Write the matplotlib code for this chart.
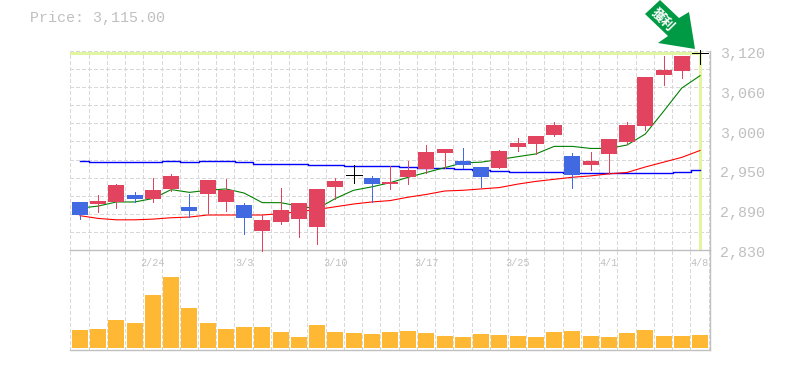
import matplotlib
matplotlib.use("Agg")
import matplotlib.pyplot as plt
import numpy as np
from matplotlib.patches import Polygon
from matplotlib.transforms import blended_transform_factory

W, H = 785, 370

open_prices = [2900, 2897, 2900, 2910, 2904, 2919, 2893, 2912, 2900, 2896, 2858, 2871,
               2875, 2864, 2922, 2939, 2935, 2926, 2937, 2948, 2971, 2960, 2951, 2950,
               2980, 2985, 2998, 2967, 2954, 2970, 2987, 3011, 3085, 3091, 3117]
high_prices = [2900, 2910, 2926, 2915, 2935, 2941, 2912, 2932, 2934, 2899, 2881, 2920,
               2899, 2919, 2935, 2954, 2938, 2953, 2960, 2983, 2977, 2979, 2951, 2976,
               2993, 2996, 3017, 2971, 2973, 2992, 3017, 3082, 3113, 3113, 3122]
low_prices = [2875, 2885, 2891, 2900, 2900, 2916, 2878, 2884, 2887, 2853, 2829, 2868,
              2849, 2839, 2904, 2928, 2900, 2919, 2926, 2942, 2950, 2950, 2922, 2950,
              2974, 2970, 2996, 2920, 2947, 2941, 2985, 3005, 3071, 3081, 3101]
close_prices = [2881, 2901, 2925, 2904, 2918, 2938, 2887, 2932, 2918, 2877, 2874, 2888,
                2899, 2919, 2931, 2939, 2926, 2929, 2947, 2973, 2977, 2954, 2937, 2974,
                2986, 2996, 3012, 2940, 2960, 2992, 3012, 3082, 3092, 3113, 3117]

ma_short = [2891, 2894, 2900, 2900, 2905, 2918, 2914, 2917, 2919, 2913, 2899, 2899,
            2894, 2890, 2905, 2917, 2922, 2928, 2936, 2943, 2950, 2957, 2958, 2962,
            2966, 2970, 2981, 2981, 2978, 2978, 2983, 2999, 3032, 3066, 3084]
ma_mid = [2880, 2876, 2874, 2874, 2875, 2877, 2878, 2881, 2881, 2881, 2881, 2883,
          2886, 2889, 2893, 2897, 2900, 2902, 2907, 2911, 2916, 2917, 2919, 2921,
          2926, 2930, 2933, 2936, 2938, 2941, 2943, 2951, 2958, 2965, 2975]
ma_long = [2959, 2958, 2958, 2958, 2958, 2959, 2958, 2959, 2959, 2958, 2956, 2956,
           2955, 2954, 2954, 2952, 2952, 2952, 2951, 2949, 2949, 2948, 2946, 2945,
           2943, 2943, 2943, 2942, 2942, 2942, 2942, 2942, 2942, 2944, 2946]

volumes = [54, 57, 84, 75, 159, 213, 120, 75, 57, 63, 63, 48, 33, 69, 48, 45, 42, 48,
           51, 45, 36, 33, 42, 39, 36, 33, 48, 51, 36, 33, 45, 54, 36, 36, 39]

price_ticks = [3120, 3062, 3004, 2946, 2888, 2830]
price_labels = ["3,120", "3,060", "3,000", "2,950", "2,890", "2,830"]
date_idx = [4, 9, 14, 19, 24, 29, 34]
date_labels = ["2/24", "3/3", "3/10", "3/17", "3/25", "4/1", "4/8"]

RED = "#e2445f"
BLUE = "#4169e1"
GRAY = "#c0c0c0"
GRID = "#d8d8d8"
LIME = "#e2f5a0"
PX = 0.72  # one pixel in points at dpi 100
MONO = "Liberation Mono"

fig = plt.figure(figsize=(W / 100, H / 100), dpi=100)
ax = fig.add_axes([70 / W, 1 - 250 / H, 640 / W, 199 / H])
ax_vol = fig.add_axes([70 / W, 1 - 350 / H, 640 / W, 100 / H])

x = np.arange(len(close_prices))
for a in (ax, ax_vol):
    a.set_xlim(-0.548, 34.548)
    a.set_xticks([])
    a.set_yticks([])
    a.patch.set_alpha(0)
    for side in ("top", "left"):
        a.spines[side].set_visible(False)
    for side in ("bottom", "right"):
        a.spines[side].set_color(GRAY)
        a.spines[side].set_linewidth(1.4 * PX)
    for k in range(36):
        a.axvline(k - 0.53, color=GRID, lw=PX, ls=(0, (3, 2.5)), antialiased=False, zorder=0)
ax.set_ylim(2830, 3120)
ax_vol.set_ylim(-6, 294)

for gy in np.linspace(2830, 3120, 12):
    ax.axhline(gy, color=GRID, lw=PX, ls=(0, (3, 2.5)), antialiased=False, zorder=0, clip_on=False)

# last price highlight
ax.axhline(close_prices[-1], xmax=(34 + 0.548) / 35.096, color=LIME, lw=3 * PX, zorder=1)
ax.axvline(x[-1], ymax=(close_prices[-1] - 2830) / 290, color=LIME, lw=3 * PX, zorder=1)

# moving averages sit under the candles
ax.plot(x, ma_long, color="#0000ff", lw=1.4 * PX, drawstyle="steps-mid", zorder=2)
ax.plot(x, ma_mid, color="#ff0000", lw=1.1 * PX, zorder=2)
ax.plot(x, ma_short, color="#008000", lw=1.1 * PX, zorder=2)

for i in x:
    o, h, l, c = open_prices[i], high_prices[i], low_prices[i], close_prices[i]
    col = "black" if o == c else (RED if c > o else BLUE)
    ax.vlines(i, l, h, color=col, lw=PX, antialiaseds=False, zorder=3, clip_on=False)
    if o == c:
        ax.hlines(c, i - 0.44, i + 0.44, color=col, lw=PX, antialiaseds=False, zorder=3, clip_on=False)
    else:
        ax.bar(i, abs(c - o), bottom=min(o, c), width=0.88, color=col, antialiased=False, zorder=3)

ax_vol.bar(x, volumes, width=0.88, color="#ffb833", antialiased=False, zorder=2)

# labels
tr = blended_transform_factory(ax.transAxes, ax.transData)
for v, lab in zip(price_ticks, price_labels):
    ax.annotate(lab, xy=(1, v), xycoords=tr, xytext=(10, -3), textcoords="offset pixels",
                family=MONO, fontsize=10.8, color=GRAY, ha="left", va="center", annotation_clip=False)
tr_vol = blended_transform_factory(ax_vol.transData, ax_vol.transAxes)
for i, lab in zip(date_idx, date_labels):
    ax_vol.text(i, 0.875, lab, transform=tr_vol, family=MONO, fontsize=7.3,
                color=GRAY, ha="center", va="center", zorder=4)
fig.text(30 / W, 1 - 18 / H, "Price: 3,115.00", family=MONO, fontsize=10.8, color=GRAY,
         ha="left", va="center")

# green signal arrow, in figure pixels
arrow_px = [(695, 49), (689, 12), (679, 18), (660, 0), (645, 14), (668, 36), (658, 43)]
arrow = Polygon([(px / W, 1 - py / H) for px, py in arrow_px], closed=True,
                facecolor="#009944", edgecolor="none", transform=fig.transFigure, zorder=5)
fig.add_artist(arrow)
fig.text(663 / W, 1 - 20 / H, "獲利", family=["Noto Sans CJK TC", "DejaVu Sans"], fontsize=9.5,
         fontweight="bold", color="white", rotation=-45, ha="center", va="center", zorder=6)

fig.savefig("out.png", dpi=100)
